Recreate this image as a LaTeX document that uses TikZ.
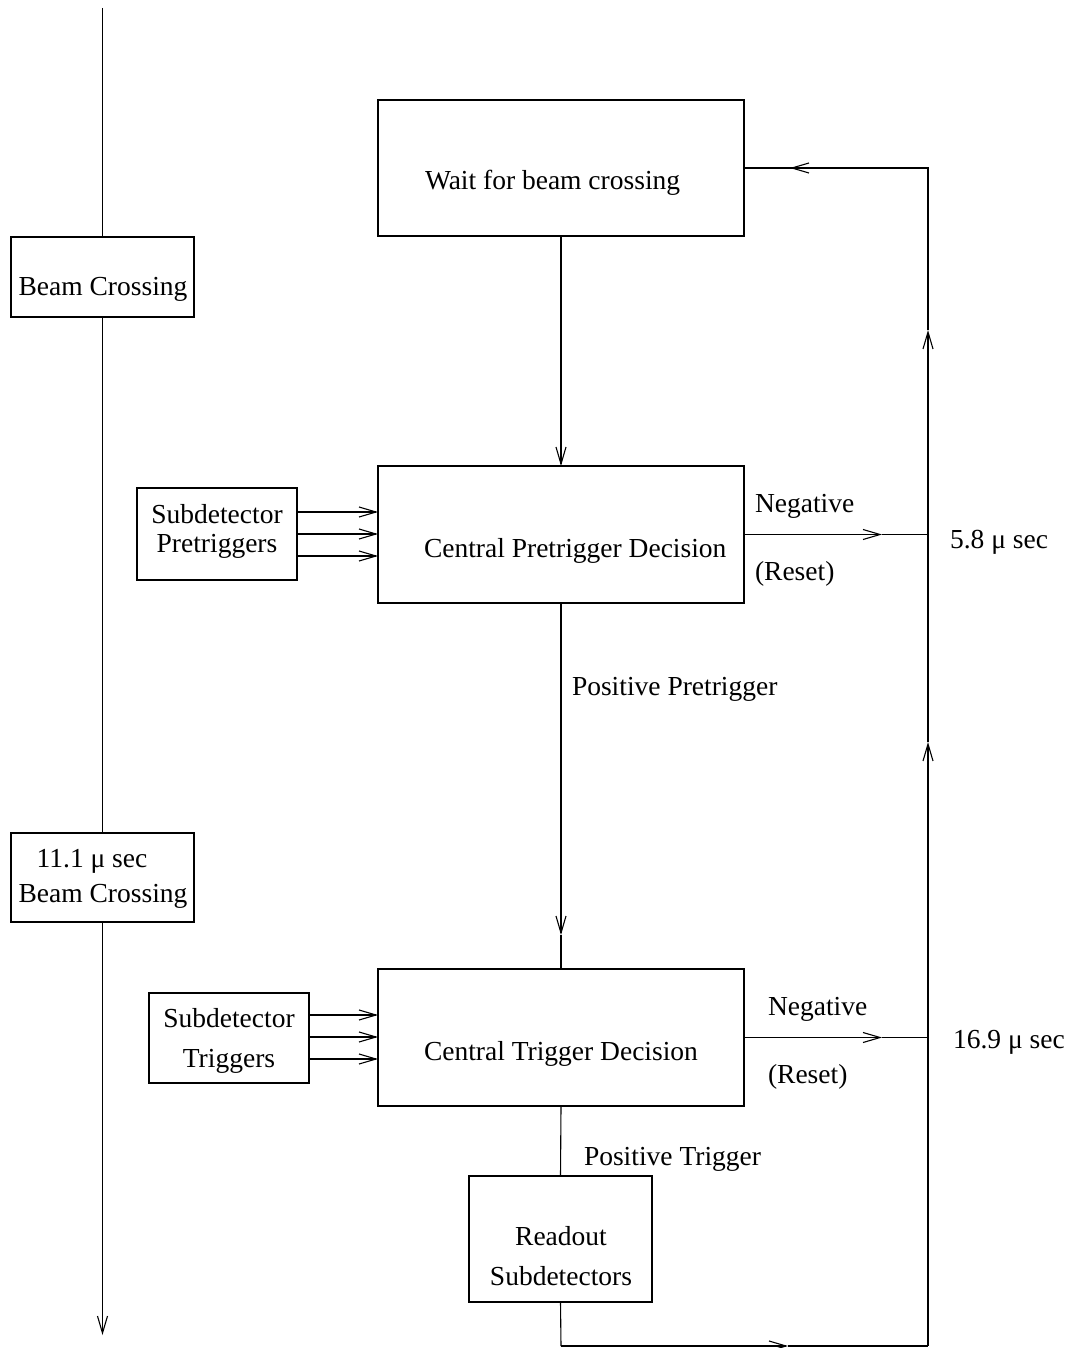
\documentclass[tikz,border=0pt]{standalone}
\usepackage{fontspec}
\setmainfont{Liberation Serif}
\usetikzlibrary{arrows.meta}
\begin{document}
\begin{tikzpicture}[x=1pt,y=-1pt,line width=1.1pt,
  box/.style={draw,line width=1.1pt,inner sep=0pt,outer sep=0pt},
  txt/.style={inner sep=0pt,outer sep=0pt,font=\fontsize{27.5}{33}\selectfont},
  arr/.style={-{Straight Barb[length=17pt,width=10pt,line width=1.1pt]}}]
\useasboundingbox (0,0) rectangle (1072,1348);

% boxes
\node[box,minimum width=183pt,minimum height=80pt]  (bc1) at (102.5,277) {};
\node[box,minimum width=183pt,minimum height=89pt]  (bc2) at (102.5,877.5) {};
\node[box,minimum width=366pt,minimum height=136pt] (wait) at (561,168) {};
\node[box,minimum width=366pt,minimum height=137pt] (cpd) at (561,534.5) {};
\node[box,minimum width=160pt,minimum height=92pt]  (sdp) at (217,534) {};
\node[box,minimum width=366pt,minimum height=137pt] (ctd) at (561,1037.5) {};
\node[box,minimum width=160pt,minimum height=90pt]  (sdt) at (229,1038) {};
\node[box,minimum width=183pt,minimum height=126pt] (ro) at (560.5,1239) {};

% texts
\node[txt,anchor=base] (t1) at (103,295) {Beam Crossing};
\node[txt,anchor=base] (t2) at (92,867) {11.1 μ sec};
\node[txt,anchor=base] (t3) at (103,902) {Beam Crossing};
\node[txt,anchor=base west] (t4) at (425,190) {Wait for beam crossing};
\node[txt,anchor=base] (t5) at (217,523) {Subdetector};
\node[txt,anchor=base] (t6) at (217,552) {Pretriggers};
\node[txt,anchor=base west] (t7) at (424,557) {Central Pretrigger Decision};
\node[txt,anchor=base west] (t8) at (755,512) {Negative};
\node[txt,anchor=base west] (t9) at (755,580) {(Reset)};
\node[txt,anchor=base west] (t10) at (950,548) {5.8 μ sec};
\node[txt,anchor=base west] (t11) at (572,695) {Positive Pretrigger};
\node[txt,anchor=base] (t12) at (229,1027) {Subdetector};
\node[txt,anchor=base] (t13) at (229,1067) {Triggers};
\node[txt,anchor=base west] (t14) at (424,1060) {Central Trigger Decision};
\node[txt,anchor=base west] (t15) at (768,1015) {Negative};
\node[txt,anchor=base west] (t16) at (768,1083) {(Reset)};
\node[txt,anchor=base west] (t17) at (953,1048) {16.9 μ sec};
\node[txt,anchor=base west] (t18) at (584,1165) {Positive Trigger};
\node[txt,anchor=base] (t19) at (561,1245) {Readout};
\node[txt,anchor=base] (t20) at (561,1285) {Subdetectors};

% coordinates
\coordinate (ltop) at (102.5,8);
\coordinate (lbot) at (102.5,1335);
\coordinate (rtop) at (928,168);
\coordinate (rbot) at (928,1346);
\coordinate (a1) at (928,742);
\coordinate (a2) at (928,330);
\coordinate (a3) at (790,168);
\coordinate (n1) at (928,534.5);
\coordinate (n1m) at (882,534.5);
\coordinate (n2) at (928,1037.5);
\coordinate (n2m) at (882,1037.5);
\coordinate (pp) at (561,935);
\coordinate (rb) at (561,1346);
\coordinate (bm) at (788,1346);

% left time line
\draw (ltop) -- (bc1.north);
\draw (bc1.south) -- (bc2.north);
\draw[arr] (bc2.south) -- (lbot);

% main flow
\draw[arr] (wait.south) -- (cpd.north);
\draw[arr] (sdp.east |- 0,512) -- (cpd.west |- 0,512);
\draw[arr] (sdp.east |- 0,534) -- (cpd.west |- 0,534);
\draw[arr] (sdp.east |- 0,556) -- (cpd.west |- 0,556);
\draw[arr] (cpd.east) -- (n1m);
\draw (n1m) -- (n1);
\draw[arr] (cpd.south) -- (pp);
\draw (pp) -- (ctd.north);
\draw[arr] (sdt.east |- 0,1015) -- (ctd.west |- 0,1015);
\draw[arr] (sdt.east |- 0,1037) -- (ctd.west |- 0,1037);
\draw[arr] (sdt.east |- 0,1059) -- (ctd.west |- 0,1059);
\draw[arr] (ctd.east) -- (n2m);
\draw (n2m) -- (n2);
\draw (ctd.south) -- (ro.north);

% return loop
\draw (ro.south) -- (rb);
\draw[arr] (rb) -- (bm);
\draw (bm) -- (rbot);
\draw[arr] (rbot) -- (a1);
\draw[arr] (a1) -- (a2);
\draw[line join=miter] (a2) -- (rtop) -- (a3);
\draw[arr] (rtop) -- (a3);
\draw (a3) -- (wait.east);
\end{tikzpicture}
\end{document}
